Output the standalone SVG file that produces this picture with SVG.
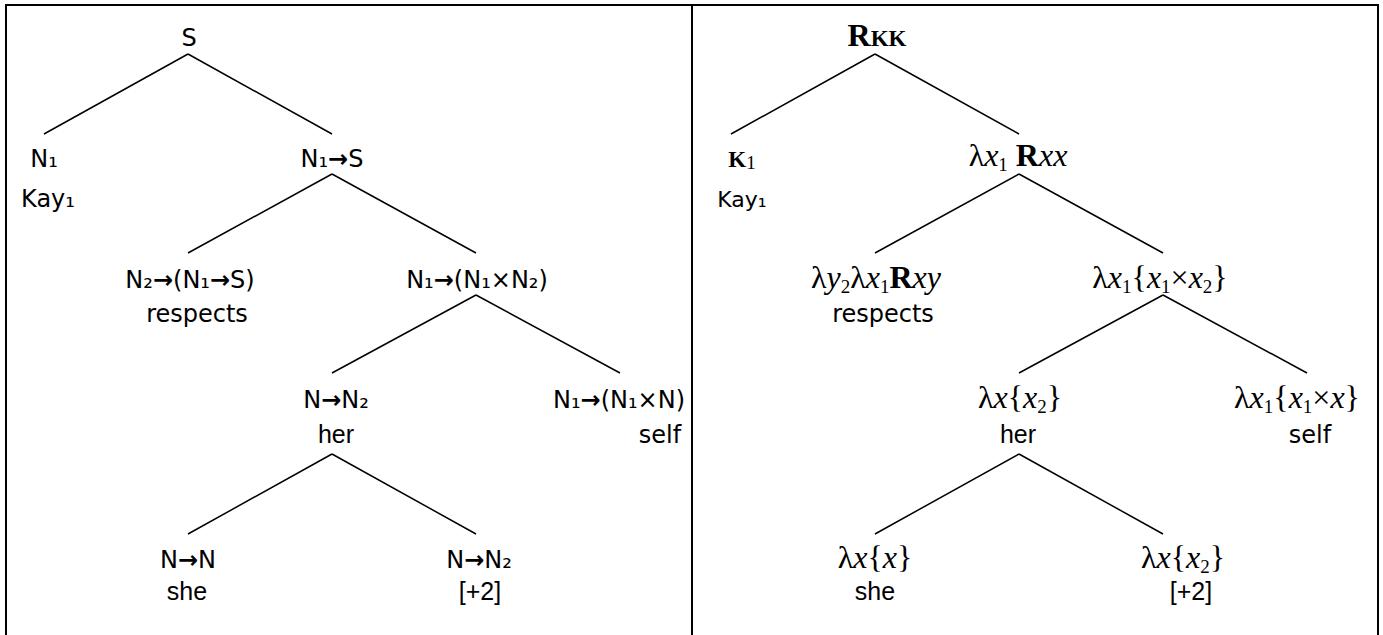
<svg xmlns="http://www.w3.org/2000/svg" width="1383" height="635" viewBox="0 0 1383 635">
<style>
.frame{stroke:#000;stroke-width:2;fill:none}
.edge{stroke:#000;stroke-width:1.5;fill:none}
text{fill:#000;text-anchor:middle}
.s{font-family:"DejaVu Sans",sans-serif;font-size:24px}
.s2{font-family:"DejaVu Sans",sans-serif;font-size:22px}
.a{font-family:"Liberation Sans",Arial,sans-serif;font-size:25px}
.m{font-family:"Liberation Serif","Times New Roman",serif;font-size:32px}
.i{font-style:italic}
.b{font-weight:bold}
.ar{font-weight:bold}
.sb{font-size:19px}
</style>
<rect width="1383" height="635" fill="#fff"/>
<g id="frame">
<line class="frame" x1="5" y1="5" x2="1379" y2="5"/>
<line class="frame" x1="6" y1="4" x2="6" y2="635"/>
<line class="frame" x1="692" y1="4" x2="692" y2="635"/>
<line class="frame" x1="1378" y1="4" x2="1378" y2="635"/>
</g>
<g id="connectors">
<path class="edge" d="M188 54L44 134M188 54L332 134M332 174L188 253M332 174L476 253M476 295L332 373M476 295L620 373M332 454L188 534M332 454L476 534"/>
<path class="edge" d="M875 54L731 134M875 54L1019 134M1019 174L875 253M1019 174L1163 253M1163 295L1019 373M1163 295L1307 373M1019 454L875 534M1019 454L1163 534"/>
</g>
<g id="left-S"><text class="s" x="189" y="46">S</text></g>
<g id="left-N1"><text class="s" x="44" y="167">N₁</text><text class="s" x="48" y="207">Kay₁</text></g>
<g id="left-N1S"><text class="s" x="332" y="167">N₁<tspan class="ar">→</tspan>S</text></g>
<g id="left-respects"><text class="s" x="190" y="288">N₂<tspan class="ar">→</tspan>(N₁<tspan class="ar">→</tspan>S)</text><text class="s" x="197" y="322">respects</text></g>
<g id="left-N1N1N2"><text class="s" x="477" y="288">N₁<tspan class="ar">→</tspan>(N₁×N₂)</text></g>
<g id="left-her"><text class="s" x="336" y="408">N<tspan class="ar">→</tspan>N₂</text><text class="a" x="336" y="443">her</text></g>
<g id="left-self"><text class="s" x="619" y="408">N₁<tspan class="ar">→</tspan>(N₁×N)</text><text class="s" x="660" y="443">self</text></g>
<g id="left-she"><text class="s" x="188" y="568">N<tspan class="ar">→</tspan>N</text><text class="a" x="187" y="600">she</text></g>
<g id="left-plus2"><text class="s" x="479" y="568">N<tspan class="ar">→</tspan>N₂</text><text class="a" x="480" y="600">[+2]</text></g>

<g id="right-RKK"><text class="m b" x="877" y="46">R<tspan font-size="23">KK</tspan></text></g>
<g id="right-K1"><text class="m" x="742" y="167"><tspan class="b" font-size="23">K</tspan><tspan class="sb" dy="2">1</tspan></text><text class="s2" x="742" y="207">Kay₁</text></g>
<g id="right-lx1Rxx"><text class="m" x="1018" y="166">λ<tspan class="i">x</tspan><tspan class="sb" dy="5">1</tspan><tspan dy="-5"> </tspan><tspan class="b">R</tspan><tspan class="i">xx</tspan></text></g>
<g id="right-respects"><text class="m" x="876" y="288">λ<tspan class="i">y</tspan><tspan class="sb" dy="5">2</tspan><tspan dy="-5">λ</tspan><tspan class="i">x</tspan><tspan class="sb" dy="5">1</tspan><tspan class="b" dy="-5">R</tspan><tspan class="i">xy</tspan></text><text class="s" x="883" y="322">respects</text></g>
<g id="right-lx1x1x2"><text class="m" x="1160" y="288">λ<tspan class="i">x</tspan><tspan class="sb" dy="5">1</tspan><tspan dy="-5">{</tspan><tspan class="i">x</tspan><tspan class="sb" dy="5">1</tspan><tspan dy="-5">×</tspan><tspan class="i">x</tspan><tspan class="sb" dy="5">2</tspan><tspan dy="-5">}</tspan></text></g>
<g id="right-her"><text class="m" x="1020" y="408">λ<tspan class="i">x</tspan>{<tspan class="i">x</tspan><tspan class="sb" dy="5">2</tspan><tspan dy="-5">}</tspan></text><text class="a" x="1018" y="443">her</text></g>
<g id="right-self"><text class="m" x="1297" y="408">λ<tspan class="i">x</tspan><tspan class="sb" dy="5">1</tspan><tspan dy="-5">{</tspan><tspan class="i">x</tspan><tspan class="sb" dy="5">1</tspan><tspan dy="-5">×</tspan><tspan class="i">x</tspan>}</text><text class="s" x="1310" y="443">self</text></g>
<g id="right-she"><text class="m" x="875" y="568">λ<tspan class="i">x</tspan>{<tspan class="i">x</tspan>}</text><text class="a" x="875" y="600">she</text></g>
<g id="right-plus2"><text class="m" x="1183" y="568">λ<tspan class="i">x</tspan>{<tspan class="i">x</tspan><tspan class="sb" dy="5">2</tspan><tspan dy="-5">}</tspan></text><text class="a" x="1191" y="600">[+2]</text></g>
</svg>
